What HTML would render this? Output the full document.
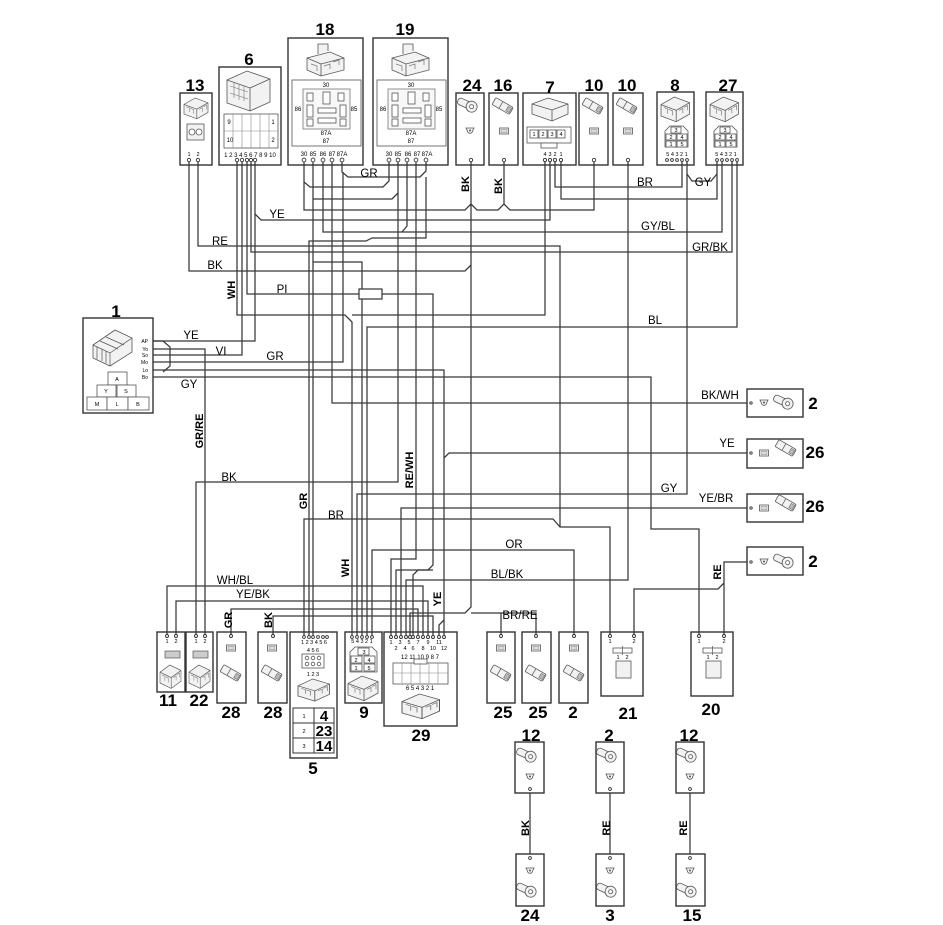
<!DOCTYPE html>
<html><head><meta charset="utf-8">
<style>
html,body{margin:0;padding:0;background:#fff}
svg{display:block}
.w{fill:none;stroke:#383838;stroke-width:1.25}
.bx{fill:none;stroke:#333;stroke-width:1.4}
.ib{fill:none;stroke:#666;stroke-width:.9}
.ic{fill:#f2f2f2;stroke:#555;stroke-width:.8}
.icw{fill:#fff;stroke:#555;stroke-width:.8}
.pin{fill:#fff;stroke:#333;stroke-width:.9}
text{font-family:"Liberation Sans",Arial,sans-serif;fill:#000}
.n{font-size:17px;font-weight:bold;text-anchor:middle}
.l{font-size:11.5px;text-anchor:middle}
.r{font-size:11px;font-weight:bold;text-anchor:middle}
.t{font-size:5.5px;text-anchor:middle}
.tb{font-size:15px;font-weight:bold;text-anchor:middle}
</style></head><body>
<svg width="943" height="925" viewBox="0 0 943 925" xmlns="http://www.w3.org/2000/svg">
<defs>
<g id="blade"><g transform="rotate(30)"><rect x="0" y="-4" width="20" height="8" rx="1.5" class="ic"/><line x1="8" y1="-4" x2="8" y2="4" stroke="#555" stroke-width=".7"/><rect x="15" y="-2.5" width="4" height="5" fill="#bbb" stroke="#555" stroke-width=".5"/></g></g>
<g id="sock"><rect x="-4.5" y="-3" width="9" height="6" class="icw"/><rect x="-3" y="-1.5" width="6" height="3" fill="#ddd" stroke="#777" stroke-width=".5"/></g>
<g id="lug"><g transform="rotate(25)"><rect x="-11" y="-3.5" width="14" height="7" rx="3" class="ic"/><circle cx="4" cy="0" r="5.5" class="ic"/><circle cx="4" cy="0" r="2" class="icw"/></g></g>
<g id="term"><path d="M-4,-2 h8 l-1.2,2.5 a2.8,2.8 0 0 1 -5.6,0 z" class="ic"/><circle cx="0" cy="0.5" r="1" fill="#555"/></g>
<g id="c3d"><path d="M0,8 L14,0 L30,6 L30,18 L16,26 L0,20 Z" class="ic"/><path d="M0,8 L16,14 L30,6 M16,14 V26" fill="none" stroke="#555" stroke-width=".8"/><path d="M3,11 l4,1.5 v5 M8,13 l4,1.5 v5 M19,14 l4,-2 v5 M24,11 l4,-2 v5" fill="none" stroke="#777" stroke-width=".7"/></g>
<g id="relay">
<rect x="4" y="42" width="69" height="66" class="ib"/>
<rect x="15" y="51" width="47" height="40" fill="#f8f8f8" stroke="#777" stroke-width=".8"/>
<rect x="19" y="55" width="6" height="8" class="icw"/><rect x="35" y="54" width="7" height="12" class="icw"/><rect x="50" y="55" width="6" height="8" class="icw"/>
<rect x="19" y="67" width="6" height="12" class="icw"/><rect x="30" y="70" width="18" height="5" class="icw"/><rect x="52" y="67" width="6" height="12" class="icw"/>
<rect x="19" y="81" width="6" height="7" class="icw"/><rect x="30" y="80" width="18" height="5" class="icw"/><rect x="52" y="81" width="6" height="7" class="icw"/>
<text x="38" y="49" class="t" style="font-size:6px">30</text>
<text x="10" y="73" class="t" style="font-size:6px">86</text>
<text x="66" y="73" class="t" style="font-size:6px">85</text>
<text x="38" y="97" class="t" style="font-size:6px">87A</text>
<text x="38" y="105" class="t" style="font-size:6px">87</text>
<path d="M19,20 L42,14 L56,20 L56,32 L33,38 L19,32 Z" class="ic"/>
<path d="M19,20 L33,26 L56,20 M33,26 V38" fill="none" stroke="#555" stroke-width=".8"/>
<path d="M30,16 V6 H40 V13" class="ic"/>
<path d="M23,26 l6,2 v5 M36,28 l6,-2 v5 M45,24 l6,-2 v5" fill="none" stroke="#777" stroke-width=".7"/>
<text x="16" y="118" class="t" style="font-size:6px">30</text><text x="25" y="118" class="t" style="font-size:6px">85</text><text x="35" y="118" class="t" style="font-size:6px">86</text><text x="44" y="118" class="t" style="font-size:6px">87</text><text x="54" y="118" class="t" style="font-size:6px">87A</text>
</g>
</defs>

<!-- ============ WIRES ============ -->
<g class="w">
<polyline points="189,161 189,271 465,271 471,265"/>
<polyline points="198,161 198,246 560,246 560,527"/>
<polyline points="304,636 304,519 553,519 560,527 610,527 610,636"/>
<polyline points="255,161 255,214 261,220 550,220 550,161"/>
<polyline points="255,214 255,341 153,341"/>
<polyline points="237,161 237,315 345,315 352,322 352,636"/>
<polyline points="352,315 545,315 545,161"/>
<polyline points="153,355 242,355 242,161"/>
<polyline points="247,161 247,294 359,294"/>
<polyline points="382,294 433,294 433,565 428,570 396,570 396,636"/>
<polyline points="251,161 251,252 732,252 732,161"/>
<polyline points="153,349 205,349 205,636"/>
<polyline points="153,362 343,362 343,172"/>
<polyline points="342,161 342,172 348,177 420,177 426,171 426,161"/>
<polyline points="153,370 444,370 444,636"/>
<polyline points="444,458 449,453 747,453"/>
<polyline points="153,377 651,377 651,529 699,529 699,636"/>
<polyline points="332,161 332,403 747,403"/>
<polyline points="357,636 357,494 687,494 687,161"/>
<polyline points="401,636 401,508 747,508"/>
<polyline points="196,636 196,482 398,482 398,161"/>
<polyline points="313,161 313,636"/>
<polyline points="313,199 392,199 398,193"/>
<polyline points="304,161 304,182 310,187 383,187 389,181 389,161"/>
<polyline points="304,182 304,210 465,210 471,204 477,210 498,210 504,204 510,210 594,210 594,161"/>
<polyline points="504,161 504,204"/>
<polyline points="323,161 323,232 722,232 722,161"/>
<polyline points="407,161 407,226 402,232"/>
<polyline points="372,636 372,550 574,550 574,636"/>
<polyline points="367,636 367,327 737,327 737,161"/>
<polyline points="309,636 309,241 366,241 372,238 426,238 426,177"/>
<polyline points="362,636 362,262 313,262"/>
<polyline points="406,636 406,580 628,580 628,161"/>
<polyline points="167,636 167,586 423,586 423,636"/>
<polyline points="176,636 176,601 428,601 428,636"/>
<polyline points="231,636 231,609 418,609 418,636"/>
<polyline points="273,636 273,616 433,616 433,636"/>
<polyline points="391,636 391,559 416,559 416,161"/>
<polyline points="471,161 471,607 465,613 410,613 410,636"/>
<polyline points="471,613 536,613 536,636"/>
<polyline points="501,613 501,636"/>
<polyline points="413,636 413,575 418,570 433,570"/>
<polyline points="439,636 439,625 444,620"/>
<polyline points="555,161 555,187 682,187 682,161"/>
<polyline points="561,161 561,199 717,199 717,161"/>
<polyline points="687,174 692,181 711,181 717,174"/>
<polyline points="747,562 724,562 724,636"/>
<polyline points="724,583 718,589 634,589 634,636"/>
<polyline points="530,793 530,854"/>
<polyline points="610,793 610,854"/>
<polyline points="690,793 690,854"/>
<polyline points="153,341 163,341 170,347 170,366 163,372"/>
</g>
<rect x="359" y="289" width="23" height="10" fill="#fff" stroke="#333" stroke-width="1.2"/>

<!-- ============ TOP COMPONENTS ============ -->
<!-- 13 -->
<rect class="bx" x="180" y="93" width="32" height="72" fill="#fff"/>
<use href="#c3d" transform="translate(184,98) scale(.8)"/>
<rect x="187" y="124" width="17" height="16" class="ic"/><circle cx="192" cy="132" r="3" class="icw"/><circle cx="199" cy="132" r="3" class="icw"/>
<text x="189" y="156" class="t">1</text><text x="198" y="156" class="t">2</text>
<!-- 6 -->
<rect class="bx" x="219" y="67" width="62" height="98"/>
<path d="M227,80 L247,71 L270,79 L270,102 L250,111 L227,103 Z" class="ic"/>
<path d="M227,80 L250,88 L270,79 M250,88 V111" fill="none" stroke="#555" stroke-width=".8"/>
<path d="M230,86 l18,6 M230,93 l18,6 M234,83 v15 M239,85 v15 M244,86 v15" fill="none" stroke="#777" stroke-width=".6"/>
<rect x="224" y="114" width="54" height="34" class="icw"/>
<path d="M233,114 v34 M242,114 v34 M251,114 v34 M260,114 v34 M269,114 v34 M224,131 h54" fill="none" stroke="#888" stroke-width=".6"/>
<text x="229" y="124" class="t" style="font-size:6px">9</text><text x="273" y="124" class="t" style="font-size:6px">1</text>
<text x="230" y="142" class="t" style="font-size:6px">10</text><text x="273" y="142" class="t" style="font-size:6px">2</text>
<text x="250" y="157" class="t" style="font-size:6px">1 2 3 4 5 6 7 8 9 10</text>
<!-- 18 / 19 -->
<rect class="bx" x="288" y="38" width="75" height="127"/>
<use href="#relay" transform="translate(288,38)"/>
<rect class="bx" x="373" y="38" width="75" height="127"/>
<use href="#relay" transform="translate(373,38)"/>
<!-- 24 -->
<rect class="bx" x="456" y="93" width="28" height="72"/>
<use href="#lug" x="468" y="105"/><use href="#term" x="470" y="130"/>
<!-- 16 -->
<rect class="bx" x="489" y="93" width="29" height="72"/>
<use href="#blade" x="494" y="101"/><use href="#sock" x="504" y="131"/>
<!-- 7 -->
<rect class="bx" x="523" y="93" width="53" height="72"/>
<path d="M532,104 L548,98 L568,104 L568,114 L552,121 L532,114 Z" class="ic"/>
<path d="M532,104 L552,110 L568,104 M552,110 V121" fill="none" stroke="#555" stroke-width=".8"/>
<rect x="527" y="127" width="44" height="16" class="icw"/>
<rect x="530" y="130" width="8" height="8" class="icw"/><rect x="539" y="130" width="8" height="8" class="icw"/><rect x="548" y="130" width="8" height="8" class="icw"/><rect x="557" y="130" width="8" height="8" class="icw"/>
<text x="534" y="136" class="t">1</text><text x="543" y="136" class="t">2</text><text x="552" y="136" class="t">3</text><text x="561" y="136" class="t">4</text>
<rect x="541" y="143" width="16" height="5" class="icw"/>
<text x="545" y="156" class="t">4</text><text x="550" y="156" class="t">3</text><text x="555" y="156" class="t">2</text><text x="561" y="156" class="t">1</text>
<!-- 10 / 10 -->
<rect class="bx" x="579" y="93" width="29" height="72"/>
<use href="#blade" x="584" y="101"/><use href="#sock" x="594" y="131"/>
<rect class="bx" x="613" y="93" width="30" height="72"/>
<use href="#blade" x="618" y="101"/><use href="#sock" x="628" y="131"/>
<!-- 8 -->
<rect class="bx" x="657" y="92" width="37" height="73"/>
<use href="#c3d" transform="translate(661,97) scale(.95)"/>
<path d="M665,131 l5,-5 h13 l5,5 v16 h-23 z" class="icw"/>
<rect x="671" y="127" width="10" height="6" class="icw"/><rect x="666" y="134" width="10" height="6" class="icw"/><rect x="677" y="134" width="10" height="6" class="icw"/><rect x="666" y="141" width="10" height="6" class="icw"/><rect x="677" y="141" width="10" height="6" class="icw"/>
<text x="676" y="132" class="t">3</text><text x="671" y="139" class="t">2</text><text x="682" y="139" class="t">4</text><text x="671" y="146" class="t">1</text><text x="682" y="146" class="t">5</text>
<text x="677" y="156" class="t">5 4 3 2 1</text>
<!-- 27 -->
<rect class="bx" x="706" y="92" width="37" height="73"/>
<use href="#c3d" transform="translate(710,97) scale(.95)"/>
<path d="M714,131 l5,-5 h13 l5,5 v16 h-23 z" class="icw"/>
<rect x="720" y="127" width="10" height="6" class="icw"/><rect x="715" y="134" width="10" height="6" class="icw"/><rect x="726" y="134" width="10" height="6" class="icw"/><rect x="715" y="141" width="10" height="6" class="icw"/><rect x="726" y="141" width="10" height="6" class="icw"/>
<text x="725" y="132" class="t">3</text><text x="720" y="139" class="t">2</text><text x="731" y="139" class="t">4</text><text x="720" y="146" class="t">1</text><text x="731" y="146" class="t">5</text>
<text x="726" y="156" class="t">5 4 3 2 1</text>

<!-- top pins -->
<g class="pin">
<circle cx="189" cy="160" r="1.7"/><circle cx="198" cy="160" r="1.7"/>
<circle cx="237" cy="160" r="1.7"/><circle cx="242" cy="160" r="1.7"/><circle cx="247" cy="160" r="1.7"/><circle cx="251" cy="160" r="1.7"/><circle cx="255" cy="160" r="1.7"/>
<circle cx="304" cy="160" r="1.9"/><circle cx="313" cy="160" r="1.9"/><circle cx="323" cy="160" r="1.9"/><circle cx="332" cy="160" r="1.9"/><circle cx="342" cy="160" r="1.9"/>
<circle cx="389" cy="160" r="1.9"/><circle cx="398" cy="160" r="1.9"/><circle cx="407" cy="160" r="1.9"/><circle cx="416" cy="160" r="1.9"/><circle cx="426" cy="160" r="1.9"/>
<circle cx="471" cy="160" r="1.7"/><circle cx="504" cy="160" r="1.7"/>
<circle cx="545" cy="160" r="1.6"/><circle cx="550" cy="160" r="1.6"/><circle cx="555" cy="160" r="1.6"/><circle cx="561" cy="160" r="1.6"/>
<circle cx="594" cy="160" r="1.7"/><circle cx="628" cy="160" r="1.7"/>
<circle cx="667" cy="160" r="1.4"/><circle cx="672" cy="160" r="1.4"/><circle cx="677" cy="160" r="1.4"/><circle cx="682" cy="160" r="1.4"/><circle cx="687" cy="160" r="1.4"/>
<circle cx="717" cy="160" r="1.4"/><circle cx="722" cy="160" r="1.4"/><circle cx="727" cy="160" r="1.4"/><circle cx="732" cy="160" r="1.4"/><circle cx="737" cy="160" r="1.4"/>
</g>

<!-- ============ CONNECTOR 1 ============ -->
<rect class="bx" x="83" y="318" width="70" height="95"/>
<path d="M93,345 L115,330 L132,338 L132,352 L110,366 L93,358 Z" class="ic"/>
<path d="M93,345 L110,353 L132,338 M110,353 V366 M97,347 v12 M102,349 v12 M106,351 v12 M100,341 l18,8 M106,337 l18,8" fill="none" stroke="#555" stroke-width=".7"/>
<rect x="108" y="372" width="19" height="13" class="icw"/><rect x="97" y="385" width="19" height="12" class="icw"/><rect x="117" y="385" width="19" height="12" class="icw"/>
<rect x="87" y="397" width="20" height="13" class="icw"/><rect x="107" y="397" width="21" height="13" class="icw"/><rect x="128" y="397" width="21" height="13" class="icw"/>
<text x="117" y="381" class="t">A</text><text x="106" y="393" class="t">Y</text><text x="126" y="393" class="t">S</text>
<text x="97" y="406" class="t">M</text><text x="117" y="406" class="t">L</text><text x="138" y="406" class="t">B</text>
<g class="t" style="text-anchor:end;font-size:5px">
<text x="148" y="343">AP</text><text x="148" y="351">Yo</text><text x="148" y="357">So</text><text x="148" y="364">Mo</text><text x="148" y="372">Lo</text><text x="148" y="379">Bo</text>
</g>

<!-- ============ RIGHT SIDE ============ -->
<rect class="bx" x="747" y="389" width="56" height="28"/>
<use href="#term" x="764" y="402"/><use href="#lug" x="784" y="402"/>
<rect class="bx" x="747" y="439" width="56" height="29"/>
<use href="#sock" x="764" y="453"/><use href="#blade" x="777" y="443"/>
<rect class="bx" x="747" y="494" width="56" height="28"/>
<use href="#sock" x="764" y="508"/><use href="#blade" x="777" y="498"/>
<rect class="bx" x="747" y="547" width="56" height="28"/>
<use href="#term" x="764" y="561"/><use href="#lug" x="784" y="561"/>
<g class="pin"><circle cx="751" cy="403" r="1.2"/><circle cx="751" cy="453" r="1.2"/><circle cx="751" cy="508" r="1.2"/><circle cx="751" cy="562" r="1.2"/></g>

<!-- ============ BOTTOM ROW ============ -->
<rect class="bx" x="157" y="632" width="28" height="60"/>
<rect x="165" y="651" width="15" height="7" fill="#ccc" stroke="#555" stroke-width=".7"/>
<use href="#c3d" transform="translate(160,665) scale(.7,.9)"/>
<rect class="bx" x="186" y="632" width="27" height="60"/>
<rect x="193" y="651" width="15" height="7" fill="#ccc" stroke="#555" stroke-width=".7"/>
<use href="#c3d" transform="translate(189,665) scale(.7,.9)"/>
<text x="167" y="643" class="t">1</text><text x="176" y="643" class="t">2</text><text x="196" y="643" class="t">1</text><text x="205" y="643" class="t">2</text>

<rect class="bx" x="217" y="632" width="29" height="71"/>
<use href="#sock" x="231" y="648"/><use href="#blade" x="222" y="668"/>
<rect class="bx" x="258" y="632" width="29" height="71"/>
<use href="#sock" x="272" y="648"/><use href="#blade" x="263" y="668"/>

<!-- 5 -->
<rect class="bx" x="290" y="632" width="47" height="126"/>
<text x="314" y="644" class="t">1 2 3 4 5 6</text>
<text x="313" y="652" class="t">4 5 6</text>
<rect x="302" y="654" width="22" height="14" class="icw"/>
<circle cx="307" cy="658" r="1.8" class="icw"/><circle cx="313" cy="658" r="1.8" class="icw"/><circle cx="319" cy="658" r="1.8" class="icw"/>
<circle cx="307" cy="664" r="1.8" class="icw"/><circle cx="313" cy="664" r="1.8" class="icw"/><circle cx="319" cy="664" r="1.8" class="icw"/>
<text x="313" y="676" class="t">1 2 3</text>
<use href="#c3d" transform="translate(298,679) scale(1.05,.85)"/>
<rect x="293" y="708" width="41" height="45" fill="none" stroke="#333" stroke-width="1"/>
<path d="M293,723 h41 M293,738 h41 M314,708 v45" fill="none" stroke="#333" stroke-width="1"/>
<text x="304" y="718" class="t">1</text><text x="304" y="733" class="t">2</text><text x="304" y="748" class="t">3</text>
<text x="324" y="721" class="tb">4</text><text x="324" y="736" class="tb">23</text><text x="324" y="751" class="tb">14</text>

<!-- 9 -->
<rect class="bx" x="345" y="632" width="37" height="71"/>
<text x="362" y="643" class="t">5 4 3 2 1</text>
<path d="M350,652 l5,-5 h17 l5,5 v20 h-27 z" class="icw"/>
<rect x="358" y="648" width="11" height="7" class="icw"/><rect x="351" y="656" width="11" height="7" class="icw"/><rect x="364" y="656" width="11" height="7" class="icw"/><rect x="351" y="664" width="11" height="7" class="icw"/><rect x="364" y="664" width="11" height="7" class="icw"/>
<text x="364" y="654" class="t">3</text><text x="356" y="662" class="t">2</text><text x="369" y="662" class="t">4</text><text x="356" y="670" class="t">1</text><text x="369" y="670" class="t">5</text>
<use href="#c3d" transform="translate(348,676) scale(1,.95)"/>

<!-- 29 -->
<rect class="bx" x="384" y="632" width="73" height="94"/>
<g class="t">
<text x="391" y="644">1</text><text x="400" y="644">3</text><text x="409" y="644">5</text><text x="418" y="644">7</text><text x="428" y="644">9</text><text x="439" y="644">11</text>
<text x="396" y="650">2</text><text x="405" y="650">4</text><text x="413" y="650">6</text><text x="423" y="650">8</text><text x="433" y="650">10</text><text x="444" y="650">12</text>
<text x="420" y="659" style="font-size:6px">12 11 10 9  8  7</text>
<text x="420" y="690" style="font-size:6px">6  5  4  3  2  1</text>
</g>
<rect x="393" y="663" width="55" height="21" class="icw"/>
<rect x="414" y="659" width="13" height="5" class="icw"/>
<path d="M402,663 v21 M411,663 v21 M420,663 v21 M429,663 v21 M438,663 v21 M393,673 h55" fill="none" stroke="#888" stroke-width=".6"/>
<use href="#c3d" transform="translate(402,694) scale(1.25,.95)"/>

<!-- 25 25 2 -->
<rect class="bx" x="487" y="632" width="28" height="71"/>
<use href="#sock" x="501" y="648"/><use href="#blade" x="492" y="668"/>
<rect class="bx" x="522" y="632" width="29" height="71"/>
<use href="#sock" x="536" y="648"/><use href="#blade" x="527" y="668"/>
<rect class="bx" x="559" y="632" width="29" height="71"/>
<use href="#sock" x="574" y="648"/><use href="#blade" x="565" y="668"/>

<!-- 21 / 20 -->
<rect class="bx" x="601" y="632" width="42" height="64"/>
<text x="610" y="643" class="t">1</text><text x="634" y="643" class="t">2</text>
<rect x="613" y="648" width="19" height="5" class="icw"/><line x1="622.5" y1="646" x2="622.5" y2="655" stroke="#555" stroke-width=".7"/>
<text x="618" y="659" class="t">1</text><text x="627" y="659" class="t">2</text>
<rect x="616" y="661" width="15" height="17" class="ic"/>
<rect class="bx" x="691" y="632" width="42" height="64"/>
<text x="699" y="643" class="t">1</text><text x="724" y="643" class="t">2</text>
<rect x="703" y="648" width="19" height="5" class="icw"/><line x1="712.5" y1="646" x2="712.5" y2="655" stroke="#555" stroke-width=".7"/>
<text x="708" y="659" class="t">1</text><text x="717" y="659" class="t">2</text>
<rect x="706" y="661" width="15" height="17" class="ic"/>

<!-- bottom pins -->
<g class="pin">
<circle cx="167" cy="636" r="1.5"/><circle cx="176" cy="636" r="1.5"/><circle cx="196" cy="636" r="1.5"/><circle cx="205" cy="636" r="1.5"/>
<circle cx="231" cy="636" r="1.5"/><circle cx="273" cy="636" r="1.5"/>
<circle cx="304" cy="637" r="1.4"/><circle cx="309" cy="637" r="1.4"/><circle cx="313" cy="637" r="1.4"/><circle cx="318" cy="637" r="1.4"/><circle cx="323" cy="637" r="1.4"/><circle cx="327" cy="637" r="1.4"/>
<circle cx="352" cy="637" r="1.4"/><circle cx="357" cy="637" r="1.4"/><circle cx="362" cy="637" r="1.4"/><circle cx="367" cy="637" r="1.4"/><circle cx="372" cy="637" r="1.4"/>
<circle cx="391" cy="637" r="1.5"/><circle cx="396" cy="637" r="1.5"/><circle cx="401" cy="637" r="1.5"/><circle cx="406" cy="637" r="1.5"/><circle cx="410" cy="637" r="1.5"/><circle cx="413" cy="637" r="1.5"/><circle cx="418" cy="637" r="1.5"/><circle cx="423" cy="637" r="1.5"/><circle cx="428" cy="637" r="1.5"/><circle cx="433" cy="637" r="1.5"/><circle cx="439" cy="637" r="1.5"/><circle cx="444" cy="637" r="1.5"/>
<circle cx="501" cy="636" r="1.5"/><circle cx="536" cy="636" r="1.5"/><circle cx="574" cy="636" r="1.5"/>
<circle cx="610" cy="636" r="1.5"/><circle cx="634" cy="636" r="1.5"/><circle cx="699" cy="636" r="1.5"/><circle cx="724" cy="636" r="1.5"/>
<circle cx="530" cy="789" r="1.4"/><circle cx="610" cy="789" r="1.4"/><circle cx="690" cy="789" r="1.4"/>
<circle cx="530" cy="858" r="1.4"/><circle cx="610" cy="858" r="1.4"/><circle cx="690" cy="858" r="1.4"/>
</g>

<!-- lower lug pairs -->
<rect class="bx" x="515" y="742" width="29" height="51"/><use href="#lug" x="527" y="755"/><use href="#term" x="530" y="776"/>
<rect class="bx" x="596" y="742" width="28" height="51"/><use href="#lug" x="607" y="755"/><use href="#term" x="610" y="776"/>
<rect class="bx" x="676" y="742" width="28" height="51"/><use href="#lug" x="687" y="755"/><use href="#term" x="690" y="776"/>
<rect class="bx" x="516" y="854" width="28" height="52"/><use href="#term" x="530" y="870"/><use href="#lug" x="527" y="890"/>
<rect class="bx" x="596" y="854" width="28" height="52"/><use href="#term" x="610" y="870"/><use href="#lug" x="607" y="890"/>
<rect class="bx" x="676" y="854" width="29" height="52"/><use href="#term" x="690" y="870"/><use href="#lug" x="687" y="890"/>

<!-- ============ NODE LABELS ============ -->
<g class="n">
<text x="195" y="91">13</text><text x="249" y="65">6</text><text x="325" y="35">18</text><text x="405" y="35">19</text>
<text x="472" y="91">24</text><text x="503" y="91">16</text><text x="550" y="93">7</text><text x="594" y="91">10</text><text x="627" y="91">10</text><text x="675" y="91">8</text><text x="728" y="91">27</text>
<text x="116" y="317">1</text>
<text x="813" y="409">2</text><text x="815" y="458">26</text><text x="815" y="512">26</text><text x="813" y="567">2</text>
<text x="168" y="706">11</text><text x="199" y="706">22</text><text x="231" y="718">28</text><text x="273" y="718">28</text><text x="313" y="774">5</text><text x="364" y="718">9</text><text x="421" y="741">29</text>
<text x="503" y="718">25</text><text x="538" y="718">25</text><text x="573" y="718">2</text><text x="628" y="719">21</text><text x="711" y="715">20</text>
<text x="531" y="741">12</text><text x="609" y="741">2</text><text x="689" y="741">12</text>
<text x="530" y="921">24</text><text x="610" y="921">3</text><text x="692" y="921">15</text>
</g>

<!-- ============ WIRE LABELS ============ -->
<g class="l">
<text x="369" y="177">GR</text>
<text x="277" y="218">YE</text>
<text x="220" y="245">RE</text>
<text x="215" y="269">BK</text>
<text x="282" y="293">PI</text>
<text x="191" y="339">YE</text>
<text x="221" y="355">VI</text>
<text x="275" y="360">GR</text>
<text x="189" y="388">GY</text>
<text x="645" y="186">BR</text>
<text x="703" y="186">GY</text>
<text x="658" y="230">GY/BL</text>
<text x="710" y="251">GR/BK</text>
<text x="655" y="324">BL</text>
<text x="720" y="399">BK/WH</text>
<text x="727" y="447">YE</text>
<text x="669" y="492">GY</text>
<text x="716" y="502">YE/BR</text>
<text x="514" y="548">OR</text>
<text x="507" y="578">BL/BK</text>
<text x="520" y="619">BR/RE</text>
<text x="229" y="481">BK</text>
<text x="336" y="519">BR</text>
<text x="235" y="584">WH/BL</text>
<text x="253" y="598">YE/BK</text>
</g>
<g class="r">
<text transform="translate(469,184) rotate(-90)">BK</text>
<text transform="translate(502,186) rotate(-90)">BK</text>
<text transform="translate(235,290) rotate(-90)">WH</text>
<text transform="translate(203,431) rotate(-90)">GR/RE</text>
<text transform="translate(307,501) rotate(-90)">GR</text>
<text transform="translate(413,470) rotate(-90)">RE/WH</text>
<text transform="translate(349,568) rotate(-90)">WH</text>
<text transform="translate(441,599) rotate(-90)">YE</text>
<text transform="translate(232,620) rotate(-90)">GR</text>
<text transform="translate(272,620) rotate(-90)">BK</text>
<text transform="translate(529,828) rotate(-90)">BK</text>
<text transform="translate(610,828) rotate(-90)">RE</text>
<text transform="translate(687,828) rotate(-90)">RE</text>
<text transform="translate(721,572) rotate(-90)">RE</text>
</g>
</svg>
</body></html>
